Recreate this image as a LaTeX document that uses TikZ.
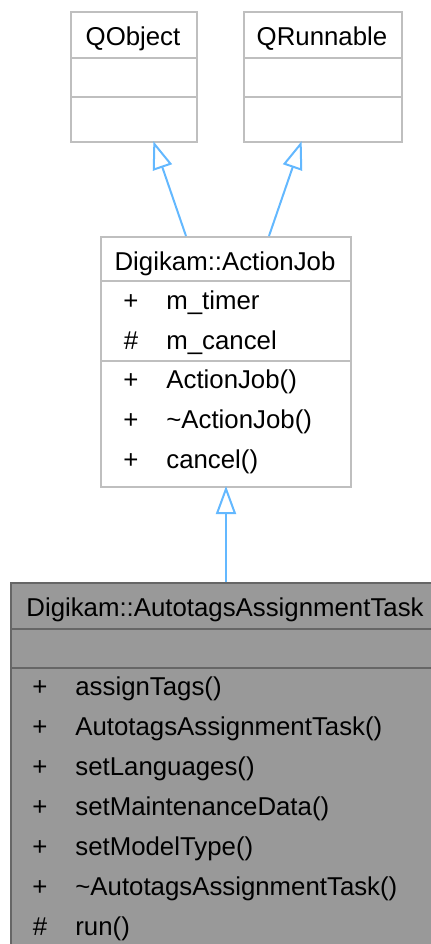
\documentclass[tikz,border=0pt]{standalone}
\usepackage{fontspec}
\setmainfont{Liberation Sans}
\usetikzlibrary{arrows.meta}
\definecolor{edgeblue}{HTML}{63B8FF}
\definecolor{boxgray}{HTML}{BFBFBF}
\definecolor{taskfill}{HTML}{999999}
\definecolor{taskline}{HTML}{666666}
\newcommand{\umlfont}{\fontsize{12.9}{15}\selectfont}

\begin{document}
\begin{tikzpicture}[x=0.5pt, y=-0.5pt,
    umlbox/.style={rectangle, draw=boxgray, fill=white, line width=1pt, inner sep=0pt, anchor=north west},
    taskbox/.style={umlbox, draw=taskline, fill=taskfill},
    umltitle/.style={font=\umlfont, inner sep=0pt, anchor=base},
    umlvis/.style={font=\umlfont, inner sep=0pt, anchor=base},
    umlmember/.style={font=\umlfont, inner sep=0pt, anchor=base west},
    umlsep/.style={draw=boxgray, line width=1pt},
    tasksep/.style={draw=taskline, line width=1pt},
    umlinherit/.style={draw=edgeblue, line width=1pt, shorten >=-1pt, -{Triangle[open, length=14pt, width=10pt, fill=white]}}
]
\useasboundingbox (0,0) rectangle (430,944);

% Base classes
\node[umlbox, minimum width=63pt, minimum height=65pt] (qobject) at (70,11) {};
\node[umltitle] (qobject-title) at (133,45) {QObject};
\draw[umlsep] (70,58) -- (196,58);
\draw[umlsep] (70,97) -- (196,97);

\node[umlbox, minimum width=79pt, minimum height=65pt] (qrunnable) at (243,11) {};
\node[umltitle] (qrunnable-title) at (322,45) {QRunnable};
\draw[umlsep] (243,58) -- (401,58);
\draw[umlsep] (243,97) -- (401,97);

% Digikam::ActionJob
\node[umlbox, minimum width=125pt, minimum height=125pt] (actionjob) at (100,236) {};
\node[umltitle] (actionjob-title) at (225,270) {Digikam::ActionJob};
\draw[umlsep] (100,281) -- (350,281);
\draw[umlsep] (100,361) -- (350,361);
\foreach \vis/\name [count=\i] in {+/m\_timer, \#/m\_cancel}
{
    \node[umlvis] (aj-attr-vis\i) at (131,269+40*\i) {\vis};
    \node[umlmember] (aj-attr\i) at (166,269+40*\i) {\name};
}
\foreach \vis/\name [count=\i] in {+/ActionJob(), +/\textasciitilde ActionJob(), +/cancel()}
{
    \node[umlvis] (aj-op-vis\i) at (131,348+40*\i) {\vis};
    \node[umlmember] (aj-op\i) at (166,348+40*\i) {\name};
}

% Digikam::AutotagsAssignmentTask
\node[taskbox, minimum width=211pt, minimum height=182pt] (task) at (10,582) {};
\node[umltitle] (task-title) at (225,616) {Digikam::AutotagsAssignmentTask};
\draw[tasksep] (10,629) -- (432,629);
\draw[tasksep] (10,668) -- (432,668);
\foreach \vis/\name [count=\i] in {+/assignTags(), +/AutotagsAssignmentTask(), +/setLanguages(),
    +/setMaintenanceData(), +/setModelType(), +/\textasciitilde AutotagsAssignmentTask(), \#/run()}
{
    \node[umlvis] (task-op-vis\i) at (40,655+40*\i) {\vis};
    \node[umlmember] (task-op\i) at (75,655+40*\i) {\name};
}

% Inheritance
\draw[umlinherit] ([xshift=-20pt]actionjob.north) -- ([xshift=10pt]qobject.south);
\draw[umlinherit] ([xshift=21.5pt]actionjob.north) -- ([xshift=-11pt]qrunnable.south);
\draw[umlinherit] (task.north -| actionjob.south) -- (actionjob.south);

\end{tikzpicture}
\end{document}
